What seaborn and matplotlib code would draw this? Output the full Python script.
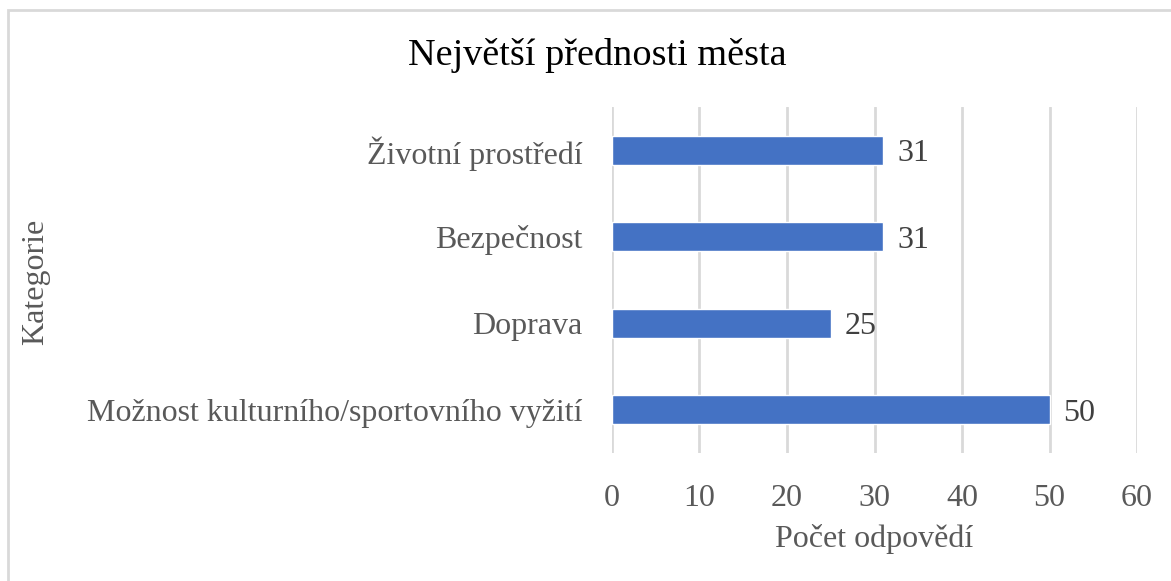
import seaborn as sns
import matplotlib.pyplot as plt
import pandas as pd
from matplotlib.patches import Rectangle

# data
kategorie = ['Životní prostředí', 'Bezpečnost', 'Doprava',
             'Možnost kulturního/sportovního vyžití']
pocty = [31, 31, 25, 50]
x_ticks = [0, 10, 20, 30, 40, 50, 60]

df = pd.DataFrame({'Kategorie': kategorie, 'Počet': pocty})

sns.set_theme(style='white')
plt.rcParams['font.family'] = ['Liberation Serif', 'DejaVu Serif']

fig = plt.figure(figsize=(11.71, 5.81), dpi=100)
ax = fig.add_axes([0.5226, 0.2203, 0.4484, 0.5955])

sns.barplot(data=df, x='Počet', y='Kategorie', color='#4472C4',
            width=0.34, saturation=1, ax=ax, zorder=3)

# popisky hodnot u sloupců
for cont in ax.containers:
    popisky = ax.bar_label(cont, padding=10, fontsize=23, color='#404040')
    for t in popisky:
        t.set_va('center_baseline')

ax.set_xlim(0, 60)
ax.set_ylim(3.5, -0.5)
ax.set_xticks(x_ticks)
ax.xaxis.grid(True, color='#d9d9d9', linewidth=2, zorder=0)
ax.yaxis.grid(False)
for s in ax.spines.values():
    s.set_visible(False)
ax.tick_params(axis='both', length=0, labelsize=23, labelcolor='#595959')
ax.tick_params(axis='x', pad=22)
ax.tick_params(axis='y', pad=21)

ax.set_xlabel('Počet odpovědí', fontsize=23, color='#595959', labelpad=8)
ax.set_ylabel('')
fig.text(0.030, 0.515, 'Kategorie', rotation=90, fontsize=23,
         color='#595959', ha='center', va='center')
fig.text(0.510, 0.905, 'Největší přednosti města', fontsize=27.5,
         color='black', ha='center', va='center')

# rámeček grafu
fig.patches.append(Rectangle((8 / 1171, -0.1), 1.2, 1.1 - 10 / 581,
                             transform=fig.transFigure, fill=False,
                             edgecolor='#d9d9d9', linewidth=2))

fig.savefig('out.png', dpi=100)
